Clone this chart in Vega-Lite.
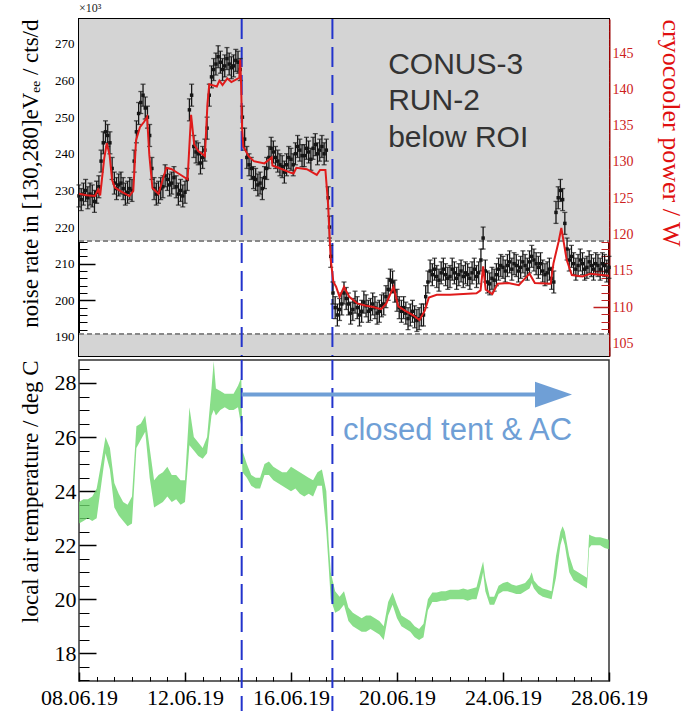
{
"$schema": "https://vega.github.io/schema/vega-lite/v6.json",
"background": "white",
"padding": {"left": 17, "top": 1, "right": 0, "bottom": 0},
"spacing": 0,
"config": {"axis": {"grid": false, "labelFont": "Liberation Serif", "titleFont": "Liberation Serif", "titleFontWeight": "normal", "labelColor": "#000", "titleColor": "#000"}},
"datasets": {
"noise": [
{"t":"2019-06-08T00:00","r":228.5,"e":3},{"t":"2019-06-08T02:00","r":227.5,"e":3},{"t":"2019-06-08T04:00","r":229,"e":3},{"t":"2019-06-08T06:00","r":230,"e":3},{"t":"2019-06-08T08:00","r":228,"e":3},{"t":"2019-06-08T10:00","r":229,"e":3},{"t":"2019-06-08T12:00","r":228.5,"e":3},{"t":"2019-06-08T14:00","r":227,"e":3},{"t":"2019-06-08T16:00","r":229.5,"e":3},{"t":"2019-06-08T18:00","r":231,"e":3},{"t":"2019-06-08T20:00","r":238,"e":3},{"t":"2019-06-08T22:00","r":243,"e":3},
{"t":"2019-06-09T00:00","r":246,"e":3},{"t":"2019-06-09T02:00","r":245,"e":3},{"t":"2019-06-09T04:00","r":243,"e":3},{"t":"2019-06-09T06:00","r":236,"e":3},{"t":"2019-06-09T08:00","r":232,"e":3},{"t":"2019-06-09T10:00","r":230.5,"e":3},{"t":"2019-06-09T12:00","r":231.5,"e":3},{"t":"2019-06-09T14:00","r":232,"e":3},{"t":"2019-06-09T16:00","r":230.5,"e":3},{"t":"2019-06-09T18:00","r":229,"e":3},{"t":"2019-06-09T20:00","r":229.5,"e":3},{"t":"2019-06-09T22:00","r":230.5,"e":3},
{"t":"2019-06-10T00:00","r":230,"e":3},{"t":"2019-06-10T02:00","r":238,"e":3},{"t":"2019-06-10T04:00","r":246,"e":3},{"t":"2019-06-10T06:00","r":251,"e":3},{"t":"2019-06-10T08:00","r":254,"e":3},{"t":"2019-06-10T10:00","r":256,"e":3},{"t":"2019-06-10T12:00","r":252.5,"e":3},{"t":"2019-06-10T14:00","r":250,"e":3},{"t":"2019-06-10T16:00","r":245,"e":3},{"t":"2019-06-10T18:00","r":236,"e":3},{"t":"2019-06-10T20:00","r":230.5,"e":3},{"t":"2019-06-10T22:00","r":229,"e":3},
{"t":"2019-06-11T00:00","r":229.5,"e":3},{"t":"2019-06-11T02:00","r":230.5,"e":3},{"t":"2019-06-11T04:00","r":231,"e":3},{"t":"2019-06-11T06:00","r":234,"e":3},{"t":"2019-06-11T08:00","r":233,"e":3},{"t":"2019-06-11T10:00","r":231.5,"e":3},{"t":"2019-06-11T12:00","r":232,"e":3},{"t":"2019-06-11T14:00","r":233.5,"e":3},{"t":"2019-06-11T16:00","r":231,"e":3},{"t":"2019-06-11T18:00","r":229,"e":3},{"t":"2019-06-11T20:00","r":230,"e":3},{"t":"2019-06-11T22:00","r":228.5,"e":3},
{"t":"2019-06-12T00:00","r":229.5,"e":3},{"t":"2019-06-12T02:00","r":233,"e":3},{"t":"2019-06-12T04:00","r":252,"e":3},{"t":"2019-06-12T06:00","r":256,"e":3},{"t":"2019-06-12T08:00","r":242,"e":3},{"t":"2019-06-12T10:00","r":240.5,"e":3},{"t":"2019-06-12T12:00","r":240,"e":3},{"t":"2019-06-12T14:00","r":237.5,"e":3},{"t":"2019-06-12T16:00","r":239,"e":3},{"t":"2019-06-12T18:00","r":241,"e":3},{"t":"2019-06-12T20:00","r":247,"e":3},{"t":"2019-06-12T22:00","r":256,"e":3},
{"t":"2019-06-13T00:00","r":261,"e":3},{"t":"2019-06-13T02:00","r":263,"e":3},{"t":"2019-06-13T04:00","r":264.5,"e":3},{"t":"2019-06-13T06:00","r":266.5,"e":3},{"t":"2019-06-13T08:00","r":265,"e":3},{"t":"2019-06-13T10:00","r":263,"e":3},{"t":"2019-06-13T12:00","r":264,"e":3},{"t":"2019-06-13T14:00","r":266,"e":3},{"t":"2019-06-13T16:00","r":264.5,"e":3},{"t":"2019-06-13T18:00","r":263.5,"e":3},{"t":"2019-06-13T20:00","r":264,"e":3},{"t":"2019-06-13T22:00","r":265.5,"e":3},
{"t":"2019-06-14T00:00","r":265,"e":3},{"t":"2019-06-14T02:00","r":263,"e":3},{"t":"2019-06-14T04:00","r":250,"e":3},{"t":"2019-06-14T06:00","r":244,"e":3},{"t":"2019-06-14T08:00","r":239,"e":3},{"t":"2019-06-14T10:00","r":237,"e":3},{"t":"2019-06-14T12:00","r":236,"e":3},{"t":"2019-06-14T14:00","r":233.5,"e":3},{"t":"2019-06-14T16:00","r":233,"e":3},{"t":"2019-06-14T18:00","r":231.5,"e":3},{"t":"2019-06-14T20:00","r":232,"e":3},{"t":"2019-06-14T22:00","r":230.5,"e":3},
{"t":"2019-06-15T00:00","r":233.5,"e":3},{"t":"2019-06-15T02:00","r":236,"e":3},{"t":"2019-06-15T04:00","r":239,"e":3},{"t":"2019-06-15T06:00","r":241.5,"e":3},{"t":"2019-06-15T08:00","r":240.5,"e":3},{"t":"2019-06-15T10:00","r":239,"e":3},{"t":"2019-06-15T12:00","r":238,"e":3},{"t":"2019-06-15T14:00","r":237,"e":3},{"t":"2019-06-15T16:00","r":236.5,"e":3},{"t":"2019-06-15T18:00","r":235,"e":3},{"t":"2019-06-15T20:00","r":237,"e":3},{"t":"2019-06-15T22:00","r":239,"e":3},
{"t":"2019-06-16T00:00","r":238.5,"e":3},{"t":"2019-06-16T02:00","r":237,"e":3},{"t":"2019-06-16T04:00","r":240,"e":3},{"t":"2019-06-16T06:00","r":242,"e":3},{"t":"2019-06-16T08:00","r":241,"e":3},{"t":"2019-06-16T10:00","r":239.5,"e":3},{"t":"2019-06-16T12:00","r":239.5,"e":3},{"t":"2019-06-16T14:00","r":241.5,"e":3},{"t":"2019-06-16T16:00","r":240.5,"e":3},{"t":"2019-06-16T18:00","r":238.5,"e":3},{"t":"2019-06-16T20:00","r":241.5,"e":3},{"t":"2019-06-16T22:00","r":242.5,"e":3},
{"t":"2019-06-17T00:00","r":240,"e":3},{"t":"2019-06-17T02:00","r":241,"e":3},{"t":"2019-06-17T04:00","r":242,"e":3},{"t":"2019-06-17T06:00","r":240,"e":3},{"t":"2019-06-17T08:00","r":241,"e":3},{"t":"2019-06-17T09:40","r":228,"e":3},{"t":"2019-06-17T10:50","r":220,"e":3},{"t":"2019-06-17T12:00","r":212,"e":3},{"t":"2019-06-17T14:00","r":202,"e":3},{"t":"2019-06-17T16:00","r":198,"e":3},{"t":"2019-06-17T18:00","r":196,"e":3},{"t":"2019-06-17T20:00","r":197.5,"e":3},{"t":"2019-06-17T22:00","r":199,"e":3},
{"t":"2019-06-18T00:00","r":202,"e":3},{"t":"2019-06-18T02:00","r":200.5,"e":3},{"t":"2019-06-18T04:00","r":199,"e":3},{"t":"2019-06-18T06:00","r":196.5,"e":3},{"t":"2019-06-18T08:00","r":197.5,"e":3},{"t":"2019-06-18T10:00","r":199.5,"e":3},{"t":"2019-06-18T12:00","r":198,"e":3},{"t":"2019-06-18T14:00","r":196,"e":3},{"t":"2019-06-18T16:00","r":197,"e":3},{"t":"2019-06-18T18:00","r":199.5,"e":3},{"t":"2019-06-18T20:00","r":198.5,"e":3},{"t":"2019-06-18T22:00","r":197,"e":3},
{"t":"2019-06-19T00:00","r":197.5,"e":3},{"t":"2019-06-19T02:00","r":199,"e":3},{"t":"2019-06-19T04:00","r":198,"e":3},{"t":"2019-06-19T06:00","r":196.5,"e":3},{"t":"2019-06-19T08:00","r":197,"e":3},{"t":"2019-06-19T10:00","r":198.5,"e":3},{"t":"2019-06-19T12:00","r":199,"e":3},{"t":"2019-06-19T14:00","r":201,"e":3},{"t":"2019-06-19T16:00","r":203,"e":3},{"t":"2019-06-19T18:00","r":205.5,"e":3},{"t":"2019-06-19T20:00","r":205,"e":3},{"t":"2019-06-19T22:00","r":202.5,"e":3},
{"t":"2019-06-20T00:00","r":200,"e":3},{"t":"2019-06-20T02:00","r":198,"e":3},{"t":"2019-06-20T04:00","r":197,"e":3},{"t":"2019-06-20T06:00","r":198,"e":3},{"t":"2019-06-20T08:00","r":196.5,"e":3},{"t":"2019-06-20T10:00","r":195,"e":3},{"t":"2019-06-20T12:00","r":196,"e":3},{"t":"2019-06-20T14:00","r":197,"e":3},{"t":"2019-06-20T16:00","r":195.5,"e":3},{"t":"2019-06-20T18:00","r":194.5,"e":3},{"t":"2019-06-20T20:00","r":195,"e":3},{"t":"2019-06-20T22:00","r":196,"e":3},
{"t":"2019-06-21T00:00","r":196,"e":3},{"t":"2019-06-21T02:00","r":201,"e":3},{"t":"2019-06-21T04:00","r":205,"e":3},{"t":"2019-06-21T06:00","r":208,"e":3},{"t":"2019-06-21T08:00","r":207,"e":3},{"t":"2019-06-21T10:00","r":208.5,"e":3},{"t":"2019-06-21T12:00","r":206.5,"e":3},{"t":"2019-06-21T14:00","r":205.5,"e":3},{"t":"2019-06-21T16:00","r":207.5,"e":3},{"t":"2019-06-21T18:00","r":208.5,"e":3},{"t":"2019-06-21T20:00","r":207,"e":3},{"t":"2019-06-21T22:00","r":206,"e":3},
{"t":"2019-06-22T00:00","r":206.5,"e":3},{"t":"2019-06-22T02:00","r":208.5,"e":3},{"t":"2019-06-22T04:00","r":207.5,"e":3},{"t":"2019-06-22T06:00","r":206,"e":3},{"t":"2019-06-22T08:00","r":207,"e":3},{"t":"2019-06-22T10:00","r":208,"e":3},{"t":"2019-06-22T12:00","r":206.5,"e":3},{"t":"2019-06-22T14:00","r":207.5,"e":3},{"t":"2019-06-22T16:00","r":207,"e":3},{"t":"2019-06-22T18:00","r":206,"e":3},{"t":"2019-06-22T20:00","r":207.5,"e":3},{"t":"2019-06-22T22:00","r":208.5,"e":3},
{"t":"2019-06-23T00:00","r":206.5,"e":3},{"t":"2019-06-23T02:00","r":207.5,"e":3},{"t":"2019-06-23T04:00","r":211,"e":3},{"t":"2019-06-23T06:00","r":217,"e":3},{"t":"2019-06-23T08:00","r":208,"e":3},{"t":"2019-06-23T10:00","r":205,"e":3},{"t":"2019-06-23T12:00","r":204.5,"e":3},{"t":"2019-06-23T14:00","r":206,"e":3},{"t":"2019-06-23T16:00","r":205.5,"e":3},{"t":"2019-06-23T18:00","r":207,"e":3},{"t":"2019-06-23T20:00","r":208.5,"e":3},{"t":"2019-06-23T22:00","r":209.5,"e":3},
{"t":"2019-06-24T00:00","r":209,"e":3},{"t":"2019-06-24T02:00","r":208,"e":3},{"t":"2019-06-24T04:00","r":209.5,"e":3},{"t":"2019-06-24T06:00","r":210.5,"e":3},{"t":"2019-06-24T08:00","r":208.5,"e":3},{"t":"2019-06-24T10:00","r":210,"e":3},{"t":"2019-06-24T12:00","r":209.5,"e":3},{"t":"2019-06-24T14:00","r":208,"e":3},{"t":"2019-06-24T16:00","r":209,"e":3},{"t":"2019-06-24T18:00","r":210.5,"e":3},{"t":"2019-06-24T20:00","r":209.5,"e":3},{"t":"2019-06-24T22:00","r":208.5,"e":3},
{"t":"2019-06-25T00:00","r":210.5,"e":3},{"t":"2019-06-25T02:00","r":212,"e":3},{"t":"2019-06-25T04:00","r":211,"e":3},{"t":"2019-06-25T06:00","r":210,"e":3},{"t":"2019-06-25T08:00","r":209,"e":3},{"t":"2019-06-25T10:00","r":210,"e":3},{"t":"2019-06-25T12:00","r":208,"e":3},{"t":"2019-06-25T14:00","r":207,"e":3},{"t":"2019-06-25T16:00","r":207.5,"e":3},{"t":"2019-06-25T18:00","r":208.5,"e":3},{"t":"2019-06-25T20:00","r":206,"e":3},{"t":"2019-06-25T22:00","r":205,"e":3},
{"t":"2019-06-26T00:00","r":224,"e":3},{"t":"2019-06-26T02:00","r":228,"e":3},{"t":"2019-06-26T04:00","r":230,"e":3},{"t":"2019-06-26T06:00","r":227.5,"e":3},{"t":"2019-06-26T08:00","r":221,"e":3},{"t":"2019-06-26T10:00","r":214,"e":3},{"t":"2019-06-26T12:00","r":211,"e":3},{"t":"2019-06-26T14:00","r":212,"e":3},{"t":"2019-06-26T16:00","r":210,"e":3},{"t":"2019-06-26T18:00","r":208.5,"e":3},{"t":"2019-06-26T20:00","r":209.5,"e":3},{"t":"2019-06-26T22:00","r":211,"e":3},
{"t":"2019-06-27T00:00","r":210,"e":3},{"t":"2019-06-27T02:00","r":208.5,"e":3},{"t":"2019-06-27T04:00","r":209,"e":3},{"t":"2019-06-27T06:00","r":210.5,"e":3},{"t":"2019-06-27T08:00","r":209.5,"e":3},{"t":"2019-06-27T10:00","r":208.5,"e":3},{"t":"2019-06-27T12:00","r":210,"e":3},{"t":"2019-06-27T14:00","r":209.5,"e":3},{"t":"2019-06-27T16:00","r":208.5,"e":3},{"t":"2019-06-27T18:00","r":210,"e":3},{"t":"2019-06-27T20:00","r":209.5,"e":3},{"t":"2019-06-27T22:00","r":208,"e":3},
{"t":"2019-06-28T00:00","r":209,"e":3}
],
"power": [
{"t":"2019-06-08T00:00","w":125.6},{"t":"2019-06-08T07:00","w":125.4},{"t":"2019-06-08T14:30","w":125.3},{"t":"2019-06-08T17:20","w":126.2},{"t":"2019-06-08T19:10","w":125.4},{"t":"2019-06-08T22:50","w":130.5},
{"t":"2019-06-09T01:10","w":132.6},{"t":"2019-06-09T03:40","w":131},{"t":"2019-06-09T06:00","w":127.5},{"t":"2019-06-09T08:20","w":126.5},{"t":"2019-06-09T14:20","w":125.9},{"t":"2019-06-09T21:40","w":125.3},
{"t":"2019-06-10T01:10","w":126},{"t":"2019-06-10T03:40","w":133},{"t":"2019-06-10T07:10","w":134.8},{"t":"2019-06-10T10:50","w":135.5},{"t":"2019-06-10T13:40","w":136.2},{"t":"2019-06-10T15:40","w":131},{"t":"2019-06-10T18:30","w":126.4},
{"t":"2019-06-11T00:00","w":125.6},{"t":"2019-06-11T03:40","w":127.5},{"t":"2019-06-11T07:10","w":129.2},{"t":"2019-06-11T12:00","w":129},{"t":"2019-06-11T19:10","w":128.3},
{"t":"2019-06-12T02:20","w":127.6},{"t":"2019-06-12T05:30","w":136.5},{"t":"2019-06-12T08:20","w":132.4},{"t":"2019-06-12T12:00","w":131.5},{"t":"2019-06-12T18:00","w":130.8},{"t":"2019-06-12T20:20","w":138},{"t":"2019-06-12T22:00","w":140.7},
{"t":"2019-06-13T04:50","w":140.4},{"t":"2019-06-13T07:10","w":141.2},{"t":"2019-06-13T10:00","w":140.6},{"t":"2019-06-13T14:20","w":141.5},{"t":"2019-06-13T18:00","w":141},{"t":"2019-06-13T21:40","w":141.3},
{"t":"2019-06-14T01:10","w":141.6},{"t":"2019-06-14T02:00","w":144.1},{"t":"2019-06-14T02:50","w":140.6},{"t":"2019-06-14T03:40","w":134.8},{"t":"2019-06-14T04:50","w":132.1},{"t":"2019-06-14T09:40","w":130.8},{"t":"2019-06-14T14:20","w":130.1},
{"t":"2019-06-15T00:00","w":129.8},{"t":"2019-06-15T06:30","w":130.6},{"t":"2019-06-15T07:10","w":129.5},{"t":"2019-06-15T14:20","w":129.1},
{"t":"2019-06-16T00:00","w":128.5},{"t":"2019-06-16T02:20","w":128.4},{"t":"2019-06-16T04:50","w":129.2},{"t":"2019-06-16T14:20","w":129},{"t":"2019-06-16T23:20","w":128.2},
{"t":"2019-06-17T02:20","w":128.9},{"t":"2019-06-17T07:10","w":128.9},{"t":"2019-06-17T09:40","w":124},{"t":"2019-06-17T10:50","w":120},{"t":"2019-06-17T12:00","w":116.5},{"t":"2019-06-17T14:20","w":113.5},{"t":"2019-06-17T16:50","w":112.8},{"t":"2019-06-17T20:00","w":111.4},
{"t":"2019-06-18T00:00","w":112.8},{"t":"2019-06-18T04:50","w":111.4},{"t":"2019-06-18T12:00","w":110.5},{"t":"2019-06-18T19:10","w":110.2},
{"t":"2019-06-19T02:20","w":110},{"t":"2019-06-19T09:40","w":109.7},{"t":"2019-06-19T14:20","w":110.5},{"t":"2019-06-19T20:50","w":112.8},
{"t":"2019-06-20T01:10","w":110.1},{"t":"2019-06-20T07:10","w":109.5},{"t":"2019-06-20T14:20","w":108.9},{"t":"2019-06-20T20:20","w":108.2},
{"t":"2019-06-21T01:10","w":109.5},{"t":"2019-06-21T04:50","w":111.3},{"t":"2019-06-21T12:00","w":111.7},
{"t":"2019-06-22T00:00","w":111.7},{"t":"2019-06-22T12:00","w":111.8},
{"t":"2019-06-23T00:00","w":111.9},{"t":"2019-06-23T03:40","w":112.3},{"t":"2019-06-23T06:00","w":115.6},{"t":"2019-06-23T08:20","w":112.4},{"t":"2019-06-23T14:20","w":111.8},{"t":"2019-06-23T19:10","w":113.2},
{"t":"2019-06-24T04:50","w":113.3},{"t":"2019-06-24T14:20","w":113},
{"t":"2019-06-25T00:00","w":114.6},{"t":"2019-06-25T04:50","w":113.3},{"t":"2019-06-25T19:10","w":113.2},{"t":"2019-06-25T21:40","w":116},
{"t":"2019-06-26T02:20","w":119},{"t":"2019-06-26T04:50","w":120.9},{"t":"2019-06-26T09:40","w":116.5},{"t":"2019-06-26T14:20","w":114.4},
{"t":"2019-06-27T00:00","w":114.2},{"t":"2019-06-27T07:10","w":114.6},{"t":"2019-06-28T00:00","w":114.3}
],
"temp": [
{"t":"2019-06-08T00:00","lo":22.8,"hi":23.6},{"t":"2019-06-08T04:00","lo":22.9,"hi":23.7},{"t":"2019-06-08T08:00","lo":23.0,"hi":23.7},{"t":"2019-06-08T12:00","lo":22.9,"hi":23.8},{"t":"2019-06-08T16:00","lo":23.0,"hi":24.1},{"t":"2019-06-08T20:00","lo":24.2,"hi":25.0},
{"t":"2019-06-09T00:00","lo":25.4,"hi":26.0},{"t":"2019-06-09T04:00","lo":24.8,"hi":25.6},{"t":"2019-06-09T08:00","lo":23.4,"hi":24.3},{"t":"2019-06-09T12:00","lo":23.1,"hi":23.9},{"t":"2019-06-09T16:00","lo":22.9,"hi":23.6},{"t":"2019-06-09T20:00","lo":22.7,"hi":23.5},
{"t":"2019-06-10T00:00","lo":22.8,"hi":23.8},{"t":"2019-06-10T04:00","lo":25.6,"hi":26.4},{"t":"2019-06-10T08:00","lo":25.9,"hi":26.5},{"t":"2019-06-10T12:00","lo":26.2,"hi":26.8},{"t":"2019-06-10T16:00","lo":24.5,"hi":25.6},{"t":"2019-06-10T20:00","lo":23.4,"hi":24.4},
{"t":"2019-06-11T00:00","lo":23.5,"hi":24.6},{"t":"2019-06-11T04:00","lo":23.6,"hi":24.7},{"t":"2019-06-11T08:00","lo":23.8,"hi":24.9},{"t":"2019-06-11T12:00","lo":23.6,"hi":24.6},{"t":"2019-06-11T16:00","lo":23.7,"hi":24.6},{"t":"2019-06-11T20:00","lo":23.5,"hi":24.4},
{"t":"2019-06-12T00:00","lo":23.6,"hi":24.4},{"t":"2019-06-12T04:00","lo":25.7,"hi":27.1},{"t":"2019-06-12T08:00","lo":25.5,"hi":26.0},{"t":"2019-06-12T12:00","lo":25.3,"hi":25.8},{"t":"2019-06-12T16:00","lo":25.2,"hi":25.6},{"t":"2019-06-12T20:00","lo":25.4,"hi":26.0},
{"t":"2019-06-13T00:00","lo":26.8,"hi":27.8},{"t":"2019-06-13T02:00","lo":27.0,"hi":28.8},{"t":"2019-06-13T04:00","lo":26.8,"hi":27.8},{"t":"2019-06-13T08:00","lo":27.0,"hi":27.7},{"t":"2019-06-13T12:00","lo":27.1,"hi":27.6},{"t":"2019-06-13T16:00","lo":27.0,"hi":27.6},{"t":"2019-06-13T20:00","lo":27.0,"hi":27.6},
{"t":"2019-06-14T00:00","lo":27.1,"hi":27.9},{"t":"2019-06-14T03:00","lo":26.4,"hi":28.2},{"t":"2019-06-14T04:00","lo":24.7,"hi":25.5},{"t":"2019-06-14T08:00","lo":24.5,"hi":25.0},{"t":"2019-06-14T12:00","lo":24.2,"hi":24.6},{"t":"2019-06-14T16:00","lo":24.1,"hi":24.5},{"t":"2019-06-14T20:00","lo":24.1,"hi":24.5},
{"t":"2019-06-15T00:00","lo":24.6,"hi":25.0},{"t":"2019-06-15T04:00","lo":24.6,"hi":25.1},{"t":"2019-06-15T08:00","lo":24.4,"hi":24.9},{"t":"2019-06-15T12:00","lo":24.3,"hi":24.8},{"t":"2019-06-15T16:00","lo":24.2,"hi":24.7},{"t":"2019-06-15T20:00","lo":24.1,"hi":24.7},
{"t":"2019-06-16T00:00","lo":24.0,"hi":24.9},{"t":"2019-06-16T04:00","lo":24.1,"hi":24.8},{"t":"2019-06-16T08:00","lo":23.9,"hi":24.7},{"t":"2019-06-16T12:00","lo":23.8,"hi":24.6},{"t":"2019-06-16T16:00","lo":23.9,"hi":24.5},{"t":"2019-06-16T20:00","lo":23.8,"hi":24.4},
{"t":"2019-06-17T00:00","lo":24.2,"hi":24.7},{"t":"2019-06-17T04:00","lo":24.2,"hi":24.8},{"t":"2019-06-17T08:00","lo":22.5,"hi":24.0},{"t":"2019-06-17T10:00","lo":21.3,"hi":22.2},{"t":"2019-06-17T12:00","lo":20.0,"hi":21.0},{"t":"2019-06-17T16:00","lo":19.5,"hi":20.3},{"t":"2019-06-17T20:00","lo":19.6,"hi":20.1},
{"t":"2019-06-18T00:00","lo":19.8,"hi":20.3},{"t":"2019-06-18T04:00","lo":19.2,"hi":19.7},{"t":"2019-06-18T08:00","lo":19.0,"hi":19.5},{"t":"2019-06-18T12:00","lo":18.9,"hi":19.4},{"t":"2019-06-18T16:00","lo":18.8,"hi":19.3},{"t":"2019-06-18T20:00","lo":18.8,"hi":19.4},
{"t":"2019-06-19T00:00","lo":18.9,"hi":19.4},{"t":"2019-06-19T04:00","lo":18.8,"hi":19.3},{"t":"2019-06-19T08:00","lo":18.7,"hi":19.2},{"t":"2019-06-19T12:00","lo":18.5,"hi":19.0},{"t":"2019-06-19T16:00","lo":19.4,"hi":19.9},{"t":"2019-06-19T20:00","lo":19.8,"hi":20.25},
{"t":"2019-06-20T00:00","lo":19.3,"hi":19.8},{"t":"2019-06-20T04:00","lo":19.0,"hi":19.4},{"t":"2019-06-20T08:00","lo":18.9,"hi":19.3},{"t":"2019-06-20T12:00","lo":18.8,"hi":19.2},{"t":"2019-06-20T16:00","lo":18.6,"hi":19.0},{"t":"2019-06-20T20:00","lo":18.5,"hi":18.9},
{"t":"2019-06-21T00:00","lo":18.6,"hi":19.1},{"t":"2019-06-21T04:00","lo":19.6,"hi":20.0},{"t":"2019-06-21T08:00","lo":19.9,"hi":20.25},{"t":"2019-06-21T12:00","lo":19.9,"hi":20.25},{"t":"2019-06-21T16:00","lo":19.95,"hi":20.3},{"t":"2019-06-21T20:00","lo":19.95,"hi":20.3},
{"t":"2019-06-22T00:00","lo":20.0,"hi":20.35},{"t":"2019-06-22T04:00","lo":20.0,"hi":20.35},{"t":"2019-06-22T08:00","lo":20.0,"hi":20.35},{"t":"2019-06-22T12:00","lo":20.0,"hi":20.4},{"t":"2019-06-22T16:00","lo":19.95,"hi":20.35},{"t":"2019-06-22T20:00","lo":20.0,"hi":20.4},
{"t":"2019-06-23T00:00","lo":20.0,"hi":20.45},{"t":"2019-06-23T04:00","lo":20.6,"hi":21.1},{"t":"2019-06-23T06:00","lo":21.0,"hi":21.4},{"t":"2019-06-23T08:00","lo":20.3,"hi":20.8},{"t":"2019-06-23T12:00","lo":19.8,"hi":20.1},{"t":"2019-06-23T16:00","lo":19.8,"hi":20.1},{"t":"2019-06-23T20:00","lo":20.2,"hi":20.5},
{"t":"2019-06-24T00:00","lo":20.3,"hi":20.6},{"t":"2019-06-24T04:00","lo":20.3,"hi":20.65},{"t":"2019-06-24T08:00","lo":20.25,"hi":20.55},{"t":"2019-06-24T12:00","lo":20.2,"hi":20.5},{"t":"2019-06-24T16:00","lo":20.2,"hi":20.55},{"t":"2019-06-24T20:00","lo":20.3,"hi":20.6},
{"t":"2019-06-25T00:00","lo":20.4,"hi":20.8},{"t":"2019-06-25T02:00","lo":20.6,"hi":21.0},{"t":"2019-06-25T04:00","lo":20.4,"hi":20.7},{"t":"2019-06-25T08:00","lo":20.2,"hi":20.5},{"t":"2019-06-25T12:00","lo":20.1,"hi":20.4},{"t":"2019-06-25T16:00","lo":20.05,"hi":20.35},{"t":"2019-06-25T20:00","lo":20.0,"hi":20.3},
{"t":"2019-06-26T00:00","lo":20.8,"hi":21.6},{"t":"2019-06-26T04:00","lo":22.0,"hi":22.5},{"t":"2019-06-26T06:00","lo":22.3,"hi":22.7},{"t":"2019-06-26T08:00","lo":22.0,"hi":22.5},{"t":"2019-06-26T12:00","lo":21.0,"hi":21.6},{"t":"2019-06-26T16:00","lo":20.7,"hi":21.1},{"t":"2019-06-26T20:00","lo":20.6,"hi":21.0},
{"t":"2019-06-27T00:00","lo":20.5,"hi":20.9},{"t":"2019-06-27T04:00","lo":20.4,"hi":20.8},{"t":"2019-06-27T06:00","lo":21.9,"hi":22.4},{"t":"2019-06-27T08:00","lo":22.0,"hi":22.35},{"t":"2019-06-27T12:00","lo":22.0,"hi":22.3},{"t":"2019-06-27T16:00","lo":22.0,"hi":22.3},{"t":"2019-06-27T20:00","lo":21.9,"hi":22.25},
{"t":"2019-06-28T00:00","lo":21.85,"hi":22.2}
],
"events": [{"t":"2019-06-14T03:20"},{"t":"2019-06-17T13:30"}],
"bands": [{"level":216.2},{"level":190.8}],
"shade": [{"lo":216.2,"hi":276.8},{"lo":184.8,"hi":190.8}]
},
"vconcat": [
{
"title": {"text": "×10³", "anchor": "start", "frame": "group", "fontSize": 12, "font": "Liberation Serif", "fontWeight": "normal", "offset": 3, "color": "#222"},
"width": 530, "height": 337,
"view": {"stroke": "#000", "strokeWidth": 2},
"layer": [
{
"layer": [
{"data": {"name": "shade"},
 "mark": {"type": "rect", "color": "#d4d4d4"},
 "encoding": {
  "x": {"datum": {"year": 2019, "month": 6, "date": 8}, "type": "temporal",
        "scale": {"domain": [{"year": 2019, "month": 6, "date": 8}, {"year": 2019, "month": 6, "date": 28}], "nice": false},
        "axis": {"orient": "bottom", "title": null, "labels": false, "domain": false, "tickSize": -9, "tickWidth": 1.5, "tickColor": "#000",
                 "values": [{"year":2019,"month":6,"date":8},{"year":2019,"month":6,"date":12},{"year":2019,"month":6,"date":16},{"year":2019,"month":6,"date":20},{"year":2019,"month":6,"date":24},{"year":2019,"month":6,"date":28}]}},
  "x2": {"datum": {"year": 2019, "month": 6, "date": 28}},
  "y": {"field": "lo", "type": "quantitative",
        "scale": {"domain": [184.8, 276.8], "nice": false, "zero": false},
        "axis": {"orient": "left", "title": "noise rate in [130,280]eVₑₑ / cts/d", "titleFontSize": 23, "titleAnchor": "end", "titlePadding": 12,
                 "minExtent": 25, "maxExtent": 25, "domain": false, "tickSize": -16, "tickWidth": 1.5, "tickColor": "#000",
                 "labelFontSize": 13, "labelPadding": 21, "values": [190, 200, 210, 220, 230, 240, 250, 260, 270]}},
  "y2": {"field": "hi"}
 }},
{"data": {"name": "bands"},
 "mark": {"type": "rule", "color": "#888", "strokeWidth": 2, "strokeDash": [5, 3]},
 "encoding": {
  "x": {"datum": {"year": 2019, "month": 6, "date": 8}, "type": "temporal",
        "axis": {"orient": "bottom", "title": null, "labels": false, "domain": false, "tickSize": -4.5, "tickWidth": 1, "tickColor": "#000",
                 "values": [{"year":2019,"month":6,"date":8,"hours":16},{"year":2019,"month":6,"date":9,"hours":8},{"year":2019,"month":6,"date":10,"hours":0},{"year":2019,"month":6,"date":10,"hours":16},{"year":2019,"month":6,"date":11,"hours":8},{"year":2019,"month":6,"date":12,"hours":16},{"year":2019,"month":6,"date":13,"hours":8},{"year":2019,"month":6,"date":14,"hours":0},{"year":2019,"month":6,"date":14,"hours":16},{"year":2019,"month":6,"date":15,"hours":8},{"year":2019,"month":6,"date":16,"hours":16},{"year":2019,"month":6,"date":17,"hours":8},{"year":2019,"month":6,"date":18,"hours":0},{"year":2019,"month":6,"date":18,"hours":16},{"year":2019,"month":6,"date":19,"hours":8},{"year":2019,"month":6,"date":20,"hours":16},{"year":2019,"month":6,"date":21,"hours":8},{"year":2019,"month":6,"date":22,"hours":0},{"year":2019,"month":6,"date":22,"hours":16},{"year":2019,"month":6,"date":23,"hours":8},{"year":2019,"month":6,"date":24,"hours":16},{"year":2019,"month":6,"date":25,"hours":8},{"year":2019,"month":6,"date":26,"hours":0},{"year":2019,"month":6,"date":26,"hours":16},{"year":2019,"month":6,"date":27,"hours":8}]}},
  "x2": {"datum": {"year": 2019, "month": 6, "date": 28}},
  "y": {"field": "level", "type": "quantitative",
        "axis": {"orient": "left", "title": null, "labels": false, "domain": false, "tickSize": -8, "tickWidth": 1, "tickColor": "#000",
                 "values": [186, 188, 192, 194, 196, 198, 202, 204, 206, 208, 212, 214, 216, 218, 222, 224, 226, 228, 232, 234, 236, 238, 242, 244, 246, 248, 252, 254, 256, 258, 262, 264, 266, 268, 272, 274, 276]}}
 }},
{"data": {"name": "events"},
 "mark": {"type": "rule", "color": "#2233cc", "strokeWidth": 2, "strokeDash": [20, 8]},
 "encoding": {"x": {"field": "t", "type": "temporal", "axis": null}}},
{"data": {"name": "noise"},
 "mark": {"type": "errorbar", "ticks": {"size": 5}, "thickness": 1.3, "color": "#151515"},
 "encoding": {
  "x": {"field": "t", "type": "temporal", "axis": null},
  "y": {"field": "r", "type": "quantitative", "axis": null},
  "yError": {"field": "e"}
 }},
{"data": {"name": "noise"},
 "mark": {"type": "square", "size": 12, "color": "#151515", "opacity": 1, "filled": true},
 "encoding": {
  "x": {"field": "t", "type": "temporal", "axis": null},
  "y": {"field": "r", "type": "quantitative", "axis": null}
 }},
{"data": {"values": [{}]},
 "mark": {"type": "text", "text": ["CONUS-3", "RUN-2", "below ROI"], "align": "left", "baseline": "alphabetic", "font": "Liberation Sans", "fontSize": 30, "lineHeight": 36.5, "color": "#333"},
 "encoding": {
  "x": {"datum": {"year": 2019, "month": 6, "date": 19, "hours": 16}, "type": "temporal", "axis": null},
  "y": {"datum": 261.8, "type": "quantitative", "axis": null}
 }}
],
"resolve": {"axis": {"x": "independent", "y": "independent"}}
},
{
"data": {"name": "power"},
"layer": [
{"mark": {"type": "line", "color": "#e01b1b", "strokeWidth": 2},
 "encoding": {
  "x": {"field": "t", "type": "temporal", "axis": null},
  "y": {"field": "w", "type": "quantitative", "scale": {"domain": [103.25, 149.7], "nice": false, "zero": false},
        "axis": {"orient": "right", "title": "cryocooler power / W", "titleColor": "#e01010", "titleFontSize": 26, "titleAnchor": "end", "titleAlign": "left", "titlePadding": 24,
                 "domain": true, "domainColor": "#9a0000", "domainWidth": 2, "tickSize": -16, "tickWidth": 1.5, "tickColor": "#c02020",
                 "labelColor": "#cc2020", "labelFontSize": 14, "labelPadding": 19, "values": [105, 110, 115, 120, 125, 130, 135, 140, 145]}}
 }},
{"mark": {"type": "line", "strokeOpacity": 0},
 "encoding": {
  "x": {"field": "t", "type": "temporal", "axis": null},
  "y": {"field": "w", "type": "quantitative",
        "axis": {"orient": "right", "title": null, "labels": false, "domain": false, "tickSize": -8, "tickWidth": 1, "tickColor": "#c02020",
                 "values": [104, 106, 107, 108, 109, 111, 112, 113, 114, 116, 117, 118, 119, 121, 122, 123, 124, 126, 127, 128, 129, 131, 132, 133, 134, 136, 137, 138, 139, 141, 142, 143, 144, 146, 147, 148, 149]}}
 }}
],
"resolve": {"axis": {"y": "independent"}}
}
],
"resolve": {"scale": {"y": "independent"}}
},
{
"width": 530, "height": 321,
"view": {"stroke": "#333", "strokeWidth": 1.5},
"layer": [
{"data": {"name": "temp"},
 "mark": {"type": "area", "color": "#6cd66c", "opacity": 0.8},
 "encoding": {
  "x": {"field": "t", "type": "temporal",
        "scale": {"domain": [{"year": 2019, "month": 6, "date": 8}, {"year": 2019, "month": 6, "date": 28}], "nice": false},
        "axis": {"orient": "bottom", "title": null, "format": "%d.%m.%y", "labelFontSize": 22, "labelFlush": false, "labelOverlap": false, "labelBound": false,
                 "domain": false, "tickSize": -9, "tickWidth": 1.5, "tickColor": "#000", "labelPadding": 15,
                 "values": [{"year":2019,"month":6,"date":8},{"year":2019,"month":6,"date":12},{"year":2019,"month":6,"date":16},{"year":2019,"month":6,"date":20},{"year":2019,"month":6,"date":24},{"year":2019,"month":6,"date":28}]}},
  "y": {"field": "lo", "type": "quantitative",
        "scale": {"domain": [16.98, 28.85], "nice": false, "zero": false},
        "axis": {"orient": "left", "title": "local air temperature / deg C", "titleFontSize": 23, "titleAnchor": "end", "titlePadding": 12,
                 "minExtent": 25, "maxExtent": 25, "domain": false, "tickSize": -17, "tickWidth": 1.5, "tickColor": "#000",
                 "labelFontSize": 22, "labelPadding": 20, "values": [18, 20, 22, 24, 26, 28]}},
  "y2": {"field": "hi"}
 }},
{"data": {"name": "events"},
 "mark": {"type": "rule", "color": "#2233cc", "strokeWidth": 2, "strokeDash": [20, 8], "clip": false},
 "encoding": {
  "x": {"field": "t", "type": "temporal",
        "axis": {"orient": "bottom", "title": null, "labels": false, "domain": false, "tickSize": -4.5, "tickWidth": 1, "tickColor": "#000",
                 "values": [{"year":2019,"month":6,"date":8,"hours":16},{"year":2019,"month":6,"date":9,"hours":8},{"year":2019,"month":6,"date":10,"hours":0},{"year":2019,"month":6,"date":10,"hours":16},{"year":2019,"month":6,"date":11,"hours":8},{"year":2019,"month":6,"date":12,"hours":16},{"year":2019,"month":6,"date":13,"hours":8},{"year":2019,"month":6,"date":14,"hours":0},{"year":2019,"month":6,"date":14,"hours":16},{"year":2019,"month":6,"date":15,"hours":8},{"year":2019,"month":6,"date":16,"hours":16},{"year":2019,"month":6,"date":17,"hours":8},{"year":2019,"month":6,"date":18,"hours":0},{"year":2019,"month":6,"date":18,"hours":16},{"year":2019,"month":6,"date":19,"hours":8},{"year":2019,"month":6,"date":20,"hours":16},{"year":2019,"month":6,"date":21,"hours":8},{"year":2019,"month":6,"date":22,"hours":0},{"year":2019,"month":6,"date":22,"hours":16},{"year":2019,"month":6,"date":23,"hours":8},{"year":2019,"month":6,"date":24,"hours":16},{"year":2019,"month":6,"date":25,"hours":8},{"year":2019,"month":6,"date":26,"hours":0},{"year":2019,"month":6,"date":26,"hours":16},{"year":2019,"month":6,"date":27,"hours":8}]}},
  "y": {"datum": 28.85, "type": "quantitative",
        "axis": {"orient": "left", "title": null, "labels": false, "domain": false, "tickSize": -10, "tickWidth": 1, "tickColor": "#000",
                 "values": [17, 17.5, 18.5, 19, 19.5, 20.5, 21, 21.5, 22.5, 23, 23.5, 24.5, 25, 25.5, 26.5, 27, 27.5, 28.5]}},
  "y2": {"datum": 15.85}
 }},
{"data": {"values": [{}]},
 "mark": {"type": "rule", "color": "#6f9fd6", "strokeWidth": 4},
 "encoding": {
  "x": {"datum": {"year": 2019, "month": 6, "date": 14, "hours": 3, "minutes": 20}, "type": "temporal", "axis": null},
  "x2": {"datum": {"year": 2019, "month": 6, "date": 25, "hours": 12}},
  "y": {"datum": 27.57, "type": "quantitative", "axis": null}
 }},
{"data": {"values": [{}]},
 "mark": {"type": "point", "shape": "M0,0L-1,-0.35L-1,0.35Z", "size": 5476, "filled": true, "color": "#6f9fd6", "opacity": 1},
 "encoding": {
  "x": {"datum": {"year": 2019, "month": 6, "date": 26, "hours": 14, "minutes": 30}, "type": "temporal", "axis": null},
  "y": {"datum": 27.57, "type": "quantitative", "axis": null}
 }},
{"data": {"values": [{}]},
 "mark": {"type": "text", "text": "closed tent & AC", "align": "left", "baseline": "alphabetic", "font": "Liberation Sans", "fontSize": 31, "color": "#6f9fd6"},
 "encoding": {
  "x": {"datum": {"year": 2019, "month": 6, "date": 17, "hours": 23}, "type": "temporal", "axis": null},
  "y": {"datum": 25.88, "type": "quantitative", "axis": null}
 }}
],
"resolve": {"axis": {"x": "independent", "y": "independent"}}
}
]
}
